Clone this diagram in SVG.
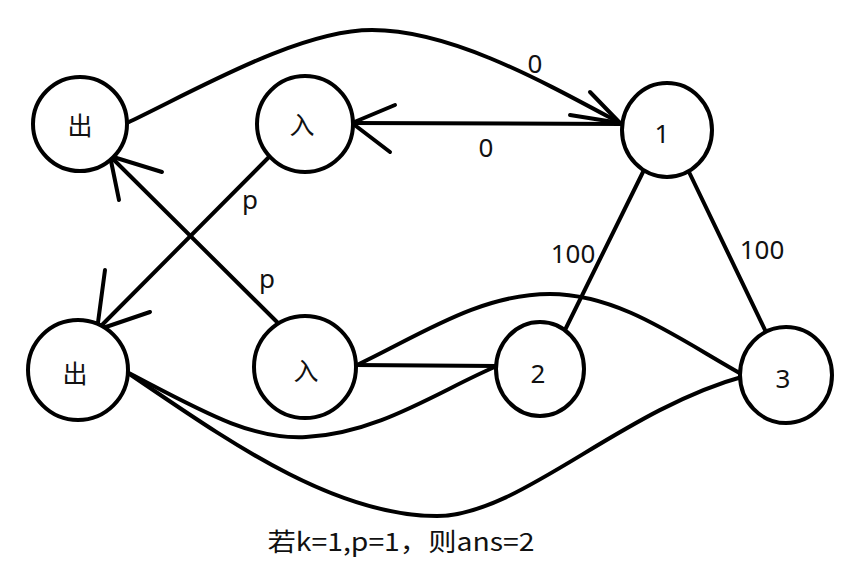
<svg xmlns="http://www.w3.org/2000/svg" width="867" height="586" viewBox="0 0 867 586">
<style>
.node{fill:#fff;stroke:#000;stroke-width:4}
.edge{fill:none;stroke:#000;stroke-width:4;stroke-linecap:round;stroke-linejoin:round}
.lbl{font-family:"Noto Sans","Noto Sans CJK SC",sans-serif;font-size:26px;fill:#111;text-anchor:middle}
.cjk{font-family:"Noto Sans CJK SC","Noto Sans",sans-serif;font-size:25px;fill:#111;text-anchor:middle}
</style>
<rect width="867" height="586" fill="#fff"/>
<g id="connectors">
  <path class="edge" d="M127,123 C200,88 300,30 372,30 C450,30 540,80 620,123"/>
  <path class="edge" d="M590,92 L620,123 L570,115"/>
  <path class="edge" d="M622,124 L352,123"/>
  <path class="edge" d="M395,105 L352,123 L390,152"/>
  <path class="edge" d="M269,157 L97,330"/>
  <path class="edge" d="M105,270 L97,330 L150,312"/>
  <path class="edge" d="M278,323 L110,156"/>
  <path class="edge" d="M119,200 L110,156 L162,172"/>
  <path class="edge" d="M643,172 L565,330"/>
  <path class="edge" d="M689,172 L766,332"/>
  <path class="edge" d="M355,365 L497,366"/>
  <path class="edge" d="M357,365 C420,335 480,294 550,294 C620,294 680,340 745,376"/>
  <path class="edge" d="M125,371 C200,410 250,440 306,437 C380,433 440,390 497,366"/>
  <path class="edge" d="M125,371 C220,435 330,516 437,516 C520,516 620,410 745,376"/>
  <text class="lbl" x="535" y="73">0</text>
  <text class="lbl" x="486" y="157">0</text>
  <text class="lbl" x="250" y="209">p</text>
  <text class="lbl" x="267" y="288">p</text>
  <text class="lbl" x="573" y="263">100</text>
  <text class="lbl" x="762" y="259">100</text>
</g>
<g id="out1"><circle class="node" cx="80" cy="124" r="47"/><text class="cjk" x="80" y="135">出</text></g>
<g id="in1"><circle class="node" cx="305" cy="124" r="48"/><text class="cjk" x="302" y="134">入</text></g>
<g id="n1"><ellipse class="node" cx="667" cy="130" rx="45" ry="47"/><text class="lbl" x="662" y="143">1</text></g>
<g id="out2"><circle class="node" cx="78" cy="370" r="50"/><text class="cjk" x="75" y="383">出</text></g>
<g id="in2"><circle class="node" cx="305" cy="367" r="51"/><text class="cjk" x="306" y="380">入</text></g>
<g id="n2"><ellipse class="node" cx="540" cy="369" rx="44" ry="47"/><text class="lbl" x="538" y="383">2</text></g>
<g id="n3"><ellipse class="node" cx="786" cy="375" rx="46" ry="48"/><text class="lbl" x="783" y="388">3</text></g>
<text class="cjk" x="401" y="551" textLength="267" lengthAdjust="spacingAndGlyphs">若k=1,p=1，则ans=2</text>
</svg>
